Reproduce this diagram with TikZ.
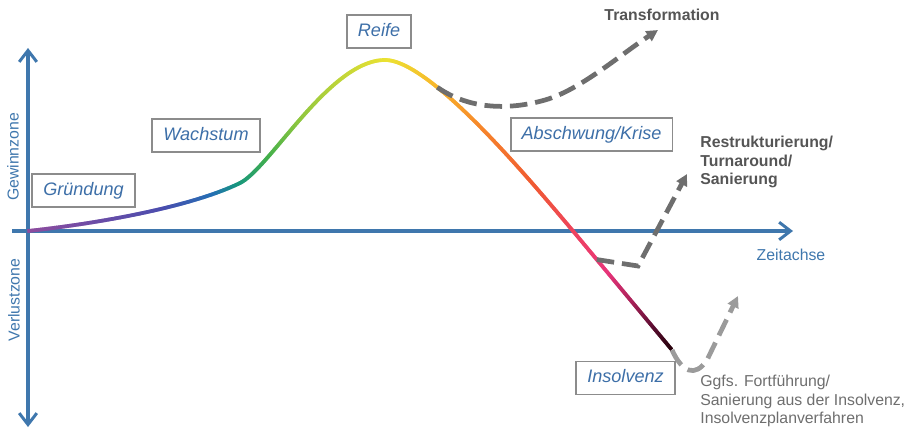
\documentclass[tikz,border=0pt]{standalone}
\usepackage{fontspec}
\setmainfont{Liberation Sans}
\usetikzlibrary{arrows.meta,decorations.markings}

% --- Farben ---
\definecolor{achsblau}{HTML}{3F77AD}
\definecolor{textblau}{HTML}{3D6FA8}
\definecolor{rahmengrau}{HTML}{8C8C8C}
\definecolor{pfeilgrau}{HTML}{6E6E6E}
\definecolor{hellgrau}{HTML}{9B9B9B}
\definecolor{schriftgrau}{HTML}{555555}
% Farbverlauf der Kurve (Stuetzstellen)
\definecolor{v0}{HTML}{8E4C9E}
\definecolor{v1}{HTML}{4A4DAE}
\definecolor{v2}{HTML}{2470B4}
\definecolor{v3}{HTML}{16967F}
\definecolor{v4}{HTML}{45B04A}
\definecolor{v5}{HTML}{8CC63F}
\definecolor{v6}{HTML}{ECE232}
\definecolor{v7}{HTML}{F8B42A}
\definecolor{v8}{HTML}{F6862A}
\definecolor{v9}{HTML}{F05A32}
\definecolor{v10}{HTML}{EE4160}
\definecolor{v11}{HTML}{E8347A}
\definecolor{v12}{HTML}{A82158}
\definecolor{v13}{HTML}{5A0C30}
\definecolor{v14}{HTML}{220008}

% Mischung zwischen zwei Stuetzstellen
\newcommand\mischfarbe[4]{%
  \pgfmathtruncatemacro\mischanteil{min(100,max(0,100*(\vf-#1)/(#2-#1)))}%
  \colorlet{vfarbe}{#4!\mischanteil!#3}}

% Farbe an der Stelle \vf (0..1 der Kurvenlaenge)
\newcommand\verlaufsfarbe{%
  \ifdim\vf pt<0.165pt \mischfarbe{0}{0.165}{v0}{v1}\else
  \ifdim\vf pt<0.228pt \mischfarbe{0.165}{0.228}{v1}{v2}\else
  \ifdim\vf pt<0.259pt \mischfarbe{0.228}{0.259}{v2}{v3}\else
  \ifdim\vf pt<0.312pt \mischfarbe{0.259}{0.312}{v3}{v4}\else
  \ifdim\vf pt<0.365pt \mischfarbe{0.312}{0.365}{v4}{v5}\else
  \ifdim\vf pt<0.501pt \mischfarbe{0.365}{0.501}{v5}{v6}\else
  \ifdim\vf pt<0.572pt \mischfarbe{0.501}{0.572}{v6}{v7}\else
  \ifdim\vf pt<0.643pt \mischfarbe{0.572}{0.643}{v7}{v8}\else
  \ifdim\vf pt<0.735pt \mischfarbe{0.643}{0.735}{v8}{v9}\else
  \ifdim\vf pt<0.817pt \mischfarbe{0.735}{0.817}{v9}{v10}\else
  \ifdim\vf pt<0.876pt \mischfarbe{0.817}{0.876}{v10}{v11}\else
  \ifdim\vf pt<0.923pt \mischfarbe{0.876}{0.923}{v11}{v12}\else
  \ifdim\vf pt<0.963pt \mischfarbe{0.923}{0.963}{v12}{v13}\else
  \mischfarbe{0.963}{1}{v13}{v14}%
  \fi\fi\fi\fi\fi\fi\fi\fi\fi\fi\fi\fi\fi}

\tikzset{
  achsspitze/.tip={Straight Barb[length=6.5pt,width=10pt,line width=1.7pt]},
  achse/.style={achsblau, line width=2pt},
  phase/.style={draw=rahmengrau, line width=1.1pt, fill=white, text=textblau,
    font=\fontsize{10.3}{12}\selectfont\itshape, inner xsep=6.3pt,
    minimum height=18.8pt, text height=7.5pt, text depth=2.2pt},
  achstext/.style={text=achsblau, font=\fontsize{9}{11}\selectfont, inner sep=0pt},
  wegtext/.style={text=schriftgrau, font=\fontsize{9}{10.5}\selectfont\bfseries,
    inner sep=0pt, align=left},
  insotext/.style={text=schriftgrau!85, font=\fontsize{9}{10.5}\selectfont,
    inner sep=0pt, align=left},
  ausweg/.style={pfeilgrau, line width=2.7pt, dash pattern=on 10pt off 4.5pt,
    -{Triangle[length=6.5pt,width=6.5pt]}},
  verlauf/.style={postaction={decorate, decoration={markings,
    mark=between positions 0 and 1 step 0.5pt with {
      \pgfmathsetmacro\vf{\pgfkeysvalueof{/pgf/decoration/mark info/distance from start}/\pgfdecoratedpathlength}
      \verlaufsfarbe
      \draw[vfarbe, line width=2.1pt] (-0.4pt,0pt) -- (0.4pt,0pt);
    }}}}
}

\begin{document}
\begin{tikzpicture}[x=0.02cm, y=-0.02cm]
    \useasboundingbox (0,0) rectangle (911,429);

    % --- Achsen ---
    \coordinate (yOben) at (28,48);
    \coordinate (yUnten) at (28,427);
    \coordinate (xLinks) at (12,231);
    \coordinate (xRechts) at (793,231);
    \draw[achse, achsspitze-achsspitze] (yUnten) -- (yOben);
    \draw[achse, -achsspitze] (xLinks) -- (xRechts);

    \node[achstext, rotate=90] (gewinn) at (13,157) {Gewinnzone};
    \node[achstext, rotate=90] (verlust) at (14,300) {Verlustzone};
    \node[achstext] (zeit) at (791,255) {Zeitachse};

    % --- Lebenszykluskurve mit Farbverlauf ---
    \path[verlauf] (28,231)
        .. controls (110,222) and (195,205) .. (240,183)
        .. controls (270,168) and (330,60) .. (385,60)
        .. controls (430,60) and (530,180) .. coordinate[pos=0.3] (trStart) (573,231)
        -- coordinate[pos=0.24] (rsStart) (672,350) coordinate (insStart);

    % --- Auswege (gestrichelt) ---
    \coordinate (trEnde) at (658,30);
    \coordinate (rsEnde) at (687,174);
    \coordinate (insEnde) at (738,296);
    \draw[ausweg] (trStart) .. controls (470,110) and (510,110) .. (545,100)
        .. controls (580,90) and (620,55) .. (trEnde);
    \draw[ausweg] (rsStart) -- (638,266) -- (rsEnde);
    \draw[ausweg, hellgrau] (insStart) .. controls (682,372) and (695,378) .. (707,360) -- (insEnde);

    % --- Phasen ---
    \node[phase] (gruendung) at (83.5,190.5) {Gründung};
    \node[phase] (wachstum) at (206,135.5) {Wachstum};
    \node[phase] (reife) at (379,31.5) {Reife};
    \node[phase] (abschwung) at (591.5,134.5) {Abschwung/Krise};
    \node[phase] (insolvenz) at (625.5,378) {Insolvenz};

    % --- Beschriftung der Auswege ---
    \node[wegtext] (transformation) at (662,15) {Transformation};
    \node[wegtext, anchor=west] (restrukt) at (700,162) {Restrukturierung/\\Turnaround/\\Sanierung};
    \node[insotext, anchor=west] (fortfuehrung) at (700,401) {Ggfs. Fortführung/\\Sanierung aus der Insolvenz,\\Insolvenzplanverfahren};
\end{tikzpicture}
\end{document}
